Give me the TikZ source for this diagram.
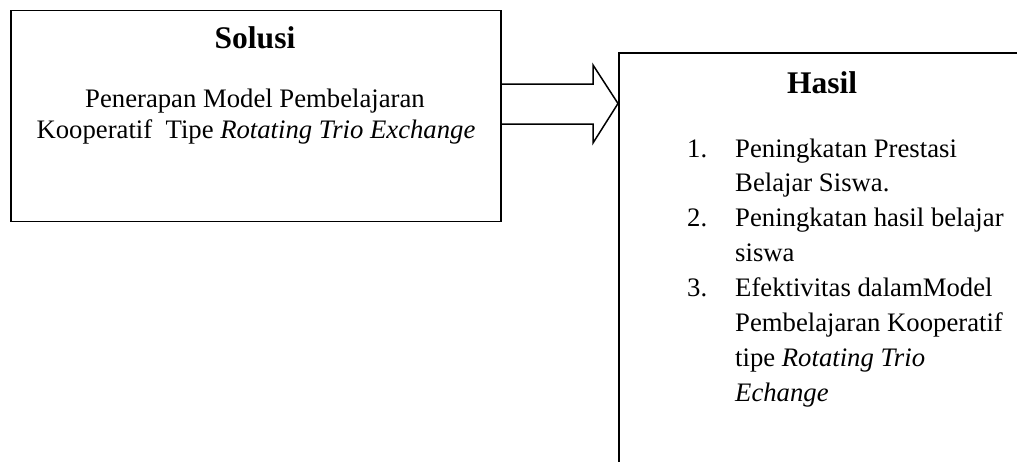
\documentclass[tikz,border=0pt]{standalone}
\usepackage{fontspec}
\setmainfont{Liberation Serif}
\usetikzlibrary{calc}
\begin{document}
\begin{tikzpicture}[x=1pt,y=-1pt,
  box/.style={draw=black,line width=1.5pt,inner sep=0pt},
  ttl/.style={font=\fontsize{31.5}{35}\selectfont\bfseries,anchor=base,inner sep=0pt},
  body/.style={font=\fontsize{26.7}{30}\selectfont,anchor=base,inner sep=0pt},
  li/.style={font=\fontsize{26.7}{30}\selectfont,anchor=base west,inner sep=0pt},
  blockarrow/.style={draw=black,line width=1.5pt,line join=miter}]
\clip (0,0) rectangle (1017,461);
\path[fill=white] (0,0) rectangle (1017,461);
% left box
\node[box,minimum width=490pt,minimum height=211pt,anchor=north west] (sol) at (10,9.5) {};
\node[ttl] (solt) at (255,48.5) {Solusi};
\node[body] (sol1) at (255,107.5) {Penerapan Model Pembelajaran};
\node[body] (sol2) at (256,138) {Kooperatif\ \ Tipe \textit{Rotating Trio Exchange}};
% right box
\node[box,minimum width=410pt,minimum height=430pt,anchor=north west] (has) at (618,52) {};
\node[ttl] (hast) at (822,93) {Hasil};
\node[li] (n1) at (687,157) {1.};
\node[li] (l1) at (735,157) {Peningkatan Prestasi};
\node[li] (l2) at (735,191.5) {Belajar Siswa.};
\node[li] (n2) at (687,226.5) {2.};
\node[li] (l3) at (735,226.5) {Peningkatan hasil belajar};
\node[li] (l4) at (735,261.5) {siswa};
\node[li] (n3) at (687,296.5) {3.};
\node[li] (l5) at (735,296.5) {Efektivitas dalamModel};
\node[li] (l6) at (735,331.5) {Pembelajaran Kooperatif};
\node[li] (l7) at (735,366.5) {tipe \textit{Rotating Trio}};
\node[li] (l8) at (735,401.5) {\textit{Echange}};
% block arrow from sol to has
\coordinate (a1) at (sol.east |- 0,84);
\coordinate (a2) at (593,84);
\coordinate (a3) at (593,65);
\coordinate (tip) at (has.west |- 0,103.5);
\coordinate (a5) at (593,143);
\coordinate (a6) at (593,124);
\coordinate (a7) at (sol.east |- 0,124);
\draw[blockarrow] (a1) -- (a2) -- (a3) -- (tip) -- (a5) -- (a6) -- (a7);
\end{tikzpicture}
\end{document}
